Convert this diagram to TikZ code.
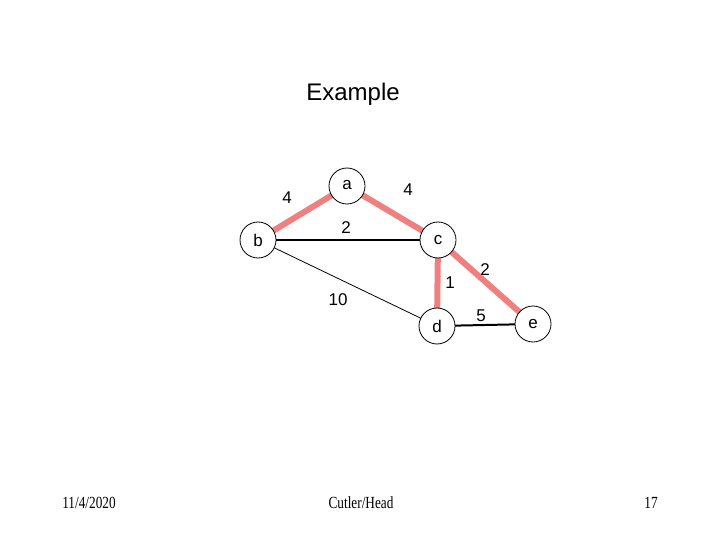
\documentclass[tikz,border=0pt]{standalone}
\usepackage{fontspec}
\setmainfont{Liberation Sans}
\newfontfamily\footfont{Liberation Serif}
\definecolor{pinkedge}{RGB}{240,128,128}
\begin{document}
\begin{tikzpicture}[x=1pt,y=-1pt,
  vert/.style={circle,draw=black,line width=0.8pt,fill=white,minimum size=36pt,inner sep=0pt,font=\fontsize{17}{19}\selectfont},
  tree/.style={draw=pinkedge,line width=6pt},
  plain/.style={draw=black,line width=2pt},
  thin/.style={draw=black,line width=0.8pt},
  wlab/.style={font=\fontsize{17}{19}\selectfont,inner sep=0pt},
  foot/.style={font=\footfont\fontsize{17}{19}\selectfont,xscale=0.78,inner sep=0pt}]
\useasboundingbox (0,0) rectangle (720,540);
\node[font=\fontsize{24}{28}\selectfont] (title) at (353,94) {Example};
\coordinate (pa) at (347,186);
\coordinate (pb) at (258,240);
\coordinate (pc) at (438,240);
\coordinate (pd) at (437,326);
\coordinate (pe) at (533,324);
\path[tree] (pb) -- (pa);
\path[tree] (pa) -- (pc);
\path[plain] (pb) -- (pc);
\path[thin] (pb) -- (pd);
\path[tree] (pc) -- (pd);
\path[tree] (pc) -- (pe);
\path[plain] (pd) -- (pe);
\node[vert] (a) at (pa) {\raisebox{2pt}{a}};
\node[vert] (b) at (pb) {b};
\node[vert] (c) at (pc) {c};
\node[vert] (d) at (pd) {d};
\node[vert] (e) at (pe) {e};
\node[wlab] (l1) at (287,198) {4};
\node[wlab] (l2) at (408,190) {4};
\node[wlab] (l3) at (346,228) {2};
\node[wlab] (l4) at (450,283) {1};
\node[wlab] (l5) at (485,270) {2};
\node[wlab] (l6) at (338,300) {10};
\node[wlab] (l7) at (481,316) {5};
\node[foot] (f1) at (89,503) {11/4/2020};
\node[foot] (f2) at (361,503) {Cutler/Head};
\node[foot] (f3) at (651,503) {17};
\end{tikzpicture}
\end{document}
